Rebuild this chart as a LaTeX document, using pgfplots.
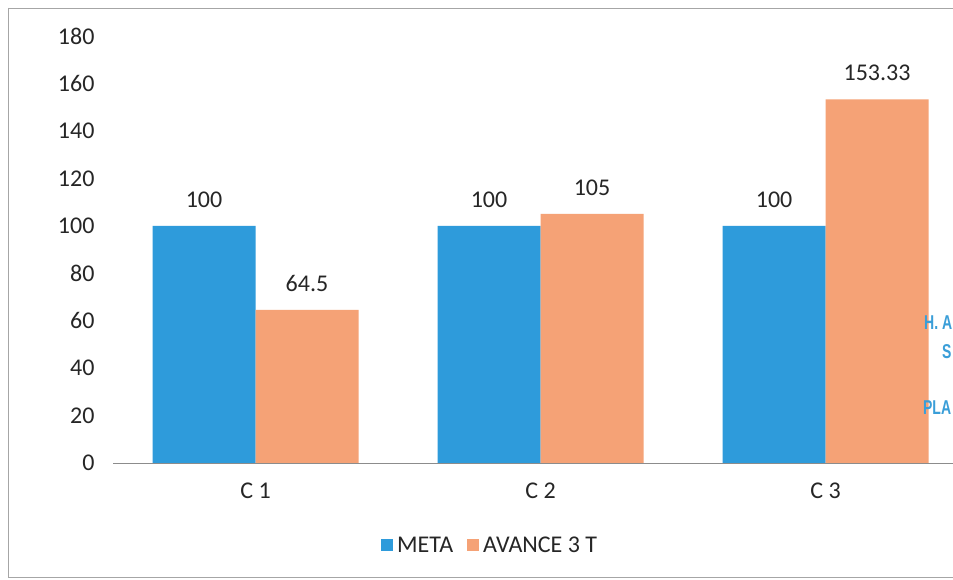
\documentclass[border=0pt]{standalone}
\usepackage{pgfplots}
\pgfplotsset{compat=1.18}
\usepackage{fontspec}
\setmainfont{Carlito}
\newfontfamily\fragfont{Liberation Sans}
\definecolor{metablue}{HTML}{2E9BDB}
\definecolor{avorange}{HTML}{F5A276}
\definecolor{fragblue}{HTML}{3A9ED8}
\newcommand{\chartfont}{\fontsize{24}{26}\selectfont}
\begin{document}
\begin{tikzpicture}[x=1pt,y=1pt]
\clip (0,0) rectangle (953,-580);
\fill[white] (0,0) rectangle (953,-580);
\draw[black!35, line width=0.8pt] (8,-8) -- (960,-8);
\draw[black!35, line width=0.8pt] (8,-8) -- (8,-577) -- (960,-577);
\begin{axis}[
  at={(113pt,-463pt)}, anchor=south west,
  scale only axis, width=840pt, height=427pt,
  xmin=-0.5, xmax=2.447, ymin=0, ymax=180,
  ybar=0pt, bar width=103pt,
  axis line style={draw=none},
  tick style={draw=none},
  major tick length=0pt,
  xtick={0,1,2}, xticklabels={C 1, C 2, C 3},
  ytick={0,20,...,180},
  /pgf/number format/assume math mode=true,
  tick label style={font=\chartfont, text=black!85},
  yticklabel style={xshift=-15pt},
  xticklabel style={yshift=-16pt},
  nodes near coords,
  every node near coord/.append style={font=\chartfont, text=black!85, yshift=15pt},
  legend style={at={(0.449,-0.193)}, anchor=center, legend columns=2, draw=none,
    font=\chartfont, text=black!85,
    /tikz/every odd column/.append style={column sep=2pt},
    /tikz/every even column/.append style={column sep=12pt}},
  legend image code/.code={\fill[#1] (0pt,-6pt) rectangle (12pt,6pt);},
  clip=false,
]
\addplot[fill=metablue, draw=none] coordinates {(0,100) (1,100) (2,100)};
\addplot[fill=avorange, draw=none] coordinates {(0,64.5) (1,105) (2,153.33)};
\legend{META, AVANCE 3 T}
\draw[black!45, line width=0.8pt] (rel axis cs:0,0) -- (rel axis cs:1,0);
\end{axis}
\node[anchor=west, text=fragblue, font=\fragfont\bfseries\fontsize{20}{20}\selectfont, xscale=0.7, inner sep=0pt] at (924,-323) {H. A};
\node[anchor=west, text=fragblue, font=\fragfont\bfseries\fontsize{20}{20}\selectfont, xscale=0.7, inner sep=0pt] at (942,-352) {S};
\node[anchor=west, text=fragblue, font=\fragfont\bfseries\fontsize{20}{20}\selectfont, xscale=0.7, inner sep=0pt] at (923,-408) {PLA};
\end{tikzpicture}
\end{document}
